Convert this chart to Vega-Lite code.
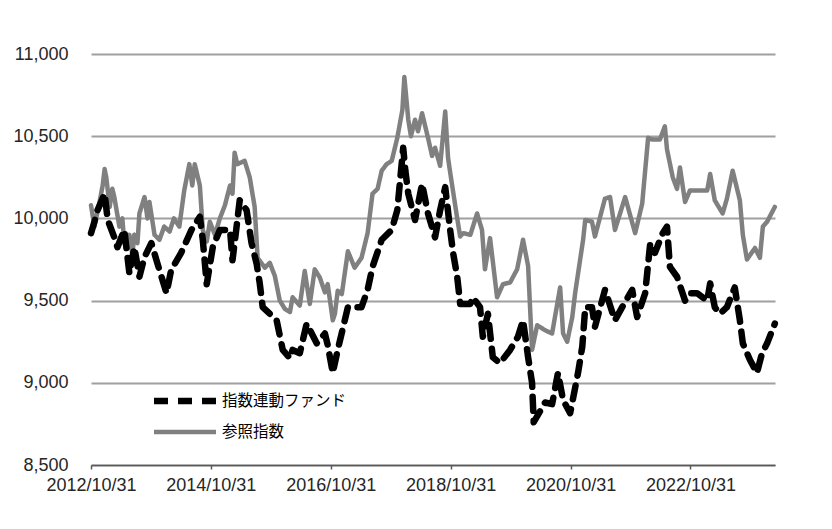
{
  "$schema": "https://vega.github.io/schema/vega-lite/v6.json",
  "width": 684,
  "height": 411,
  "autosize": {"type": "none"},
  "padding": {"left": 91, "top": 54, "right": 57, "bottom": 64},
  "background": "white",
  "config": {
    "font": "Liberation Sans",
    "view": {"stroke": null},
    "legend": {"labelFont": "Noto Sans CJK JP"}
  },
  "data": {"values": [
{"series":"参照指数","date":"2012-10-31","value":10080},{"series":"参照指数","date":"2012-11-21","value":9950},{"series":"参照指数","date":"2012-12-22","value":10100},{"series":"参照指数","date":"2013-01-10","value":10200},{"series":"参照指数","date":"2013-01-22","value":10300},{"series":"参照指数","date":"2013-02-01","value":10250},{"series":"参照指数","date":"2013-02-22","value":10070},{"series":"参照指数","date":"2013-03-10","value":10180},{"series":"参照指数","date":"2013-03-22","value":10130},{"series":"参照指数","date":"2013-04-22","value":9950},{"series":"参照指数","date":"2013-05-10","value":10000},{"series":"参照指数","date":"2013-05-22","value":9850},{"series":"参照指数","date":"2013-06-22","value":9900},{"series":"参照指数","date":"2013-07-10","value":9780},{"series":"参照指数","date":"2013-07-22","value":9900},{"series":"参照指数","date":"2013-08-10","value":9850},{"series":"参照指数","date":"2013-08-22","value":10030},{"series":"参照指数","date":"2013-09-22","value":10130},{"series":"参照指数","date":"2013-10-10","value":10000},{"series":"参照指数","date":"2013-10-22","value":10100},{"series":"参照指数","date":"2013-11-22","value":9900},{"series":"参照指数","date":"2013-12-22","value":9870},{"series":"参照指数","date":"2014-01-20","value":9950},{"series":"参照指数","date":"2014-02-22","value":9920},{"series":"参照指数","date":"2014-03-20","value":10000},{"series":"参照指数","date":"2014-04-22","value":9950},{"series":"参照指数","date":"2014-05-22","value":10170},{"series":"参照指数","date":"2014-06-22","value":10330},{"series":"参照指数","date":"2014-07-10","value":10200},{"series":"参照指数","date":"2014-07-25","value":10330},{"series":"参照指数","date":"2014-08-25","value":10200},{"series":"参照指数","date":"2014-09-12","value":9930},{"series":"参照指数","date":"2014-10-06","value":9860},{"series":"参照指数","date":"2014-10-25","value":9980},{"series":"参照指数","date":"2014-11-25","value":9900},{"series":"参照指数","date":"2014-12-25","value":10000},{"series":"参照指数","date":"2015-01-25","value":10080},{"series":"参照指数","date":"2015-02-25","value":10200},{"series":"参照指数","date":"2015-03-12","value":10150},{"series":"参照指数","date":"2015-03-25","value":10400},{"series":"参照指数","date":"2015-04-10","value":10330},{"series":"参照指数","date":"2015-05-25","value":10350},{"series":"参照指数","date":"2015-06-25","value":10250},{"series":"参照指数","date":"2015-07-25","value":10070},{"series":"参照指数","date":"2015-08-12","value":9760},{"series":"参照指数","date":"2015-09-25","value":9700},{"series":"参照指数","date":"2015-10-25","value":9730},{"series":"参照指数","date":"2015-11-25","value":9650},{"series":"参照指数","date":"2015-12-25","value":9500},{"series":"参照指数","date":"2016-01-25","value":9450},{"series":"参照指数","date":"2016-02-25","value":9430},{"series":"参照指数","date":"2016-03-12","value":9520},{"series":"参照指数","date":"2016-04-25","value":9470},{"series":"参照指数","date":"2016-05-25","value":9680},{"series":"参照指数","date":"2016-06-25","value":9480},{"series":"参照指数","date":"2016-07-25","value":9690},{"series":"参照指数","date":"2016-08-25","value":9640},{"series":"参照指数","date":"2016-09-25","value":9550},{"series":"参照指数","date":"2016-10-12","value":9600},{"series":"参照指数","date":"2016-11-12","value":9380},{"series":"参照指数","date":"2016-11-25","value":9420},{"series":"参照指数","date":"2016-12-12","value":9560},{"series":"参照指数","date":"2017-01-06","value":9540},{"series":"参照指数","date":"2017-02-12","value":9800},{"series":"参照指数","date":"2017-03-25","value":9700},{"series":"参照指数","date":"2017-05-06","value":9760},{"series":"参照指数","date":"2017-06-12","value":9910},{"series":"参照指数","date":"2017-07-12","value":10150},{"series":"参照指数","date":"2017-08-12","value":10180},{"series":"参照指数","date":"2017-09-06","value":10290},{"series":"参照指数","date":"2017-10-06","value":10330},{"series":"参照指数","date":"2017-11-06","value":10350},{"series":"参照指数","date":"2017-12-10","value":10490},{"series":"参照指数","date":"2018-01-10","value":10660},{"series":"参照指数","date":"2018-01-22","value":10860},{"series":"参照指数","date":"2018-02-15","value":10600},{"series":"参照指数","date":"2018-03-03","value":10500},{"series":"参照指数","date":"2018-03-28","value":10600},{"series":"参照指数","date":"2018-04-15","value":10530},{"series":"参照指数","date":"2018-05-10","value":10640},{"series":"参照指数","date":"2018-06-15","value":10490},{"series":"参照指数","date":"2018-07-10","value":10380},{"series":"参照指数","date":"2018-07-28","value":10430},{"series":"参照指数","date":"2018-08-28","value":10320},{"series":"参照指数","date":"2018-09-28","value":10650},{"series":"参照指数","date":"2018-10-15","value":10370},{"series":"参照指数","date":"2018-10-28","value":10280},{"series":"参照指数","date":"2018-12-10","value":10000},{"series":"参照指数","date":"2018-12-28","value":9890},{"series":"参照指数","date":"2019-01-15","value":9910},{"series":"参照指数","date":"2019-02-28","value":9900},{"series":"参照指数","date":"2019-04-10","value":10030},{"series":"参照指数","date":"2019-05-10","value":9930},{"series":"参照指数","date":"2019-05-28","value":9690},{"series":"参照指数","date":"2019-06-28","value":9880},{"series":"参照指数","date":"2019-08-10","value":9520},{"series":"参照指数","date":"2019-08-28","value":9560},{"series":"参照指数","date":"2019-09-15","value":9600},{"series":"参照指数","date":"2019-10-28","value":9610},{"series":"参照指数","date":"2019-12-10","value":9690},{"series":"参照指数","date":"2020-01-15","value":9870},{"series":"参照指数","date":"2020-02-15","value":9710},{"series":"参照指数","date":"2020-03-10","value":9200},{"series":"参照指数","date":"2020-04-10","value":9350},{"series":"参照指数","date":"2020-05-28","value":9320},{"series":"参照指数","date":"2020-07-10","value":9300},{"series":"参照指数","date":"2020-08-28","value":9580},{"series":"参照指数","date":"2020-09-15","value":9300},{"series":"参照指数","date":"2020-10-10","value":9250},{"series":"参照指数","date":"2020-11-10","value":9400},{"series":"参照指数","date":"2020-11-28","value":9550},{"series":"参照指数","date":"2021-01-15","value":9870},{"series":"参照指数","date":"2021-01-28","value":9990},{"series":"参照指数","date":"2021-03-10","value":9980},{"series":"参照指数","date":"2021-03-28","value":9890},{"series":"参照指数","date":"2021-05-28","value":10120},{"series":"参照指数","date":"2021-06-28","value":10130},{"series":"参照指数","date":"2021-07-28","value":9930},{"series":"参照指数","date":"2021-09-28","value":10130},{"series":"参照指数","date":"2021-11-28","value":9910},{"series":"参照指数","date":"2022-01-10","value":10090},{"series":"参照指数","date":"2022-02-15","value":10490},{"series":"参照指数","date":"2022-03-10","value":10480},{"series":"参照指数","date":"2022-04-28","value":10480},{"series":"参照指数","date":"2022-05-28","value":10560},{"series":"参照指数","date":"2022-06-10","value":10420},{"series":"参照指数","date":"2022-07-15","value":10250},{"series":"参照指数","date":"2022-08-10","value":10180},{"series":"参照指数","date":"2022-08-28","value":10310},{"series":"参照指数","date":"2022-09-28","value":10100},{"series":"参照指数","date":"2022-10-28","value":10170},{"series":"参照指数","date":"2023-02-10","value":10170},{"series":"参照指数","date":"2023-02-28","value":10270},{"series":"参照指数","date":"2023-03-28","value":10110},{"series":"参照指数","date":"2023-05-15","value":10030},{"series":"参照指数","date":"2023-06-10","value":10120},{"series":"参照指数","date":"2023-07-15","value":10290},{"series":"参照指数","date":"2023-08-28","value":10110},{"series":"参照指数","date":"2023-09-15","value":9900},{"series":"参照指数","date":"2023-10-10","value":9750},{"series":"参照指数","date":"2023-11-28","value":9820},{"series":"参照指数","date":"2023-12-28","value":9760},{"series":"参照指数","date":"2024-01-15","value":9950},{"series":"参照指数","date":"2024-02-10","value":9980},{"series":"参照指数","date":"2024-03-28","value":10070},
{"series":"指数連動ファンド","date":"2012-10-31","value":9910},{"series":"指数連動ファンド","date":"2012-11-21","value":9980},{"series":"指数連動ファンド","date":"2012-12-10","value":10050},{"series":"指数連動ファンド","date":"2013-01-22","value":10150},{"series":"指数連動ファンド","date":"2013-02-10","value":9990},{"series":"指数連動ファンド","date":"2013-03-22","value":9885},{"series":"指数連動ファンド","date":"2013-04-10","value":9825},{"series":"指数連動ファンド","date":"2013-05-22","value":9930},{"series":"指数連動ファンド","date":"2013-06-22","value":9665},{"series":"指数連動ファンド","date":"2013-07-22","value":9825},{"series":"指数連動ファンド","date":"2013-08-22","value":9645},{"series":"指数連動ファンド","date":"2013-09-22","value":9765},{"series":"指数連動ファンド","date":"2013-11-03","value":9850},{"series":"指数連動ファンド","date":"2013-12-10","value":9725},{"series":"指数連動ファンド","date":"2014-02-03","value":9545},{"series":"指数連動ファンド","date":"2014-03-03","value":9685},{"series":"指数連動ファンド","date":"2014-05-03","value":9790},{"series":"指数連動ファンド","date":"2014-07-05","value":9930},{"series":"指数連動ファンド","date":"2014-08-25","value":10010},{"series":"指数連動ファンド","date":"2014-09-12","value":9870},{"series":"指数連動ファンド","date":"2014-10-06","value":9600},{"series":"指数連動ファンド","date":"2014-11-12","value":9825},{"series":"指数連動ファンド","date":"2014-12-25","value":9930},{"series":"指数連動ファンド","date":"2015-02-25","value":9930},{"series":"指数連動ファンド","date":"2015-03-12","value":9745},{"series":"指数連動ファンド","date":"2015-04-06","value":9950},{"series":"指数連動ファンド","date":"2015-04-25","value":10110},{"series":"指数連動ファンド","date":"2015-06-06","value":10050},{"series":"指数連動ファンド","date":"2015-07-06","value":9850},{"series":"指数連動ファンド","date":"2015-08-06","value":9725},{"series":"指数連動ファンド","date":"2015-08-25","value":9605},{"series":"指数連動ファンド","date":"2015-09-12","value":9460},{"series":"指数連動ファンド","date":"2015-10-25","value":9420},{"series":"指数連動ファンド","date":"2015-12-06","value":9380},{"series":"指数連動ファンド","date":"2016-01-12","value":9200},{"series":"指数連動ファンド","date":"2016-02-25","value":9150},{"series":"指数連動ファンド","date":"2016-03-12","value":9200},{"series":"指数連動ファンド","date":"2016-04-25","value":9180},{"series":"指数連動ファンド","date":"2016-06-06","value":9360},{"series":"指数連動ファンド","date":"2016-08-06","value":9240},{"series":"指数連動ファンド","date":"2016-09-25","value":9300},{"series":"指数連動ファンド","date":"2016-10-12","value":9230},{"series":"指数連動ファンド","date":"2016-11-12","value":9060},{"series":"指数連動ファンド","date":"2016-12-12","value":9200},{"series":"指数連動ファンド","date":"2017-02-12","value":9460},{"series":"指数連動ファンド","date":"2017-05-06","value":9460},{"series":"指数連動ファンド","date":"2017-06-12","value":9565},{"series":"指数連動ファンド","date":"2017-07-12","value":9705},{"series":"指数連動ファンド","date":"2017-09-06","value":9870},{"series":"指数連動ファンド","date":"2017-11-06","value":9930},{"series":"指数連動ファンド","date":"2017-12-10","value":10050},{"series":"指数連動ファンド","date":"2018-01-15","value":10430},{"series":"指数連動ファンド","date":"2018-01-28","value":10290},{"series":"指数連動ファンド","date":"2018-02-15","value":10150},{"series":"指数連動ファンド","date":"2018-03-28","value":9990},{"series":"指数連動ファンド","date":"2018-05-10","value":10210},{"series":"指数連動ファンド","date":"2018-06-15","value":10030},{"series":"指数連動ファンド","date":"2018-07-28","value":9885},{"series":"指数連動ファンド","date":"2018-08-28","value":10050},{"series":"指数連動ファンド","date":"2018-09-28","value":10190},{"series":"指数連動ファンド","date":"2018-10-28","value":9930},{"series":"指数連動ファンド","date":"2018-11-15","value":9790},{"series":"指数連動ファンド","date":"2018-12-10","value":9645},{"series":"指数連動ファンド","date":"2018-12-28","value":9480},{"series":"指数連動ファンド","date":"2019-02-28","value":9480},{"series":"指数連動ファンド","date":"2019-03-15","value":9520},{"series":"指数連動ファンド","date":"2019-04-28","value":9460},{"series":"指数連動ファンド","date":"2019-05-15","value":9280},{"series":"指数連動ファンド","date":"2019-06-15","value":9420},{"series":"指数連動ファンド","date":"2019-07-15","value":9155},{"series":"指数連動ファンド","date":"2019-08-28","value":9120},{"series":"指数連動ファンド","date":"2019-10-28","value":9200},{"series":"指数連動ファンド","date":"2019-12-15","value":9280},{"series":"指数連動ファンド","date":"2020-01-15","value":9380},{"series":"指数連動ファンド","date":"2020-02-15","value":9155},{"series":"指数連動ファンド","date":"2020-03-10","value":9000},{"series":"指数連動ファンド","date":"2020-03-20","value":8760},{"series":"指数連動ファンド","date":"2020-05-28","value":8880},{"series":"指数連動ファンド","date":"2020-07-10","value":8870},{"series":"指数連動ファンド","date":"2020-08-15","value":9060},{"series":"指数連動ファンド","date":"2020-09-15","value":8895},{"series":"指数連動ファンド","date":"2020-10-28","value":8815},{"series":"指数連動ファンド","date":"2020-12-15","value":9060},{"series":"指数連動ファンド","date":"2021-01-10","value":9220},{"series":"指数連動ファンド","date":"2021-01-28","value":9460},{"series":"指数連動ファンド","date":"2021-03-10","value":9460},{"series":"指数連動ファンド","date":"2021-03-28","value":9340},{"series":"指数連動ファンド","date":"2021-05-28","value":9565},{"series":"指数連動ファンド","date":"2021-07-28","value":9380},{"series":"指数連動ファンド","date":"2021-09-10","value":9460},{"series":"指数連動ファンド","date":"2021-11-10","value":9565},{"series":"指数連動ファンド","date":"2021-12-10","value":9400},{"series":"指数連動ファンド","date":"2022-01-28","value":9545},{"series":"指数連動ファンド","date":"2022-02-28","value":9850},{"series":"指数連動ファンド","date":"2022-03-28","value":9790},{"series":"指数連動ファンド","date":"2022-05-15","value":9910},{"series":"指数連動ファンド","date":"2022-06-10","value":9950},{"series":"指数連動ファンド","date":"2022-06-28","value":9705},{"series":"指数連動ファンド","date":"2022-08-10","value":9645},{"series":"指数連動ファンド","date":"2022-09-28","value":9500},{"series":"指数連動ファンド","date":"2022-10-28","value":9545},{"series":"指数連動ファンド","date":"2022-12-10","value":9545},{"series":"指数連動ファンド","date":"2023-02-10","value":9500},{"series":"指数連動ファンド","date":"2023-02-28","value":9605},{"series":"指数連動ファンド","date":"2023-03-28","value":9460},{"series":"指数連動ファンド","date":"2023-04-28","value":9420},{"series":"指数連動ファンド","date":"2023-06-10","value":9460},{"series":"指数連動ファンド","date":"2023-07-28","value":9580},{"series":"指数連動ファンド","date":"2023-08-28","value":9380},{"series":"指数連動ファンド","date":"2023-09-15","value":9240},{"series":"指数連動ファンド","date":"2023-10-28","value":9140},{"series":"指数連動ファンド","date":"2023-12-10","value":9060},{"series":"指数連動ファンド","date":"2024-01-10","value":9180},{"series":"指数連動ファンド","date":"2024-02-10","value":9240},{"series":"指数連動ファンド","date":"2024-03-28","value":9360}
  ]},
  "mark": {"type": "line", "strokeCap": "round", "strokeJoin": "round"},
  "encoding": {
    "x": {
      "field": "date", "type": "temporal",
      "scale": {"type": "utc", "domain": [{"year": 2012, "month": 10, "date": 31, "utc": true}, {"year": 2024, "month": 3, "date": 29, "utc": true}]},
      "axis": {
        "title": null,
        "values": [
          {"year": 2012, "month": 10, "date": 31, "utc": true},
          {"year": 2014, "month": 10, "date": 31, "utc": true},
          {"year": 2016, "month": 10, "date": 31, "utc": true},
          {"year": 2018, "month": 10, "date": 31, "utc": true},
          {"year": 2020, "month": 10, "date": 31, "utc": true},
          {"year": 2022, "month": 10, "date": 31, "utc": true}
        ],
        "labelExpr": "utcFormat(datum.value, '%Y/%m/%d')",
        "grid": false,
        "domainColor": "#595959",
        "domainWidth": 1.5,
        "tickColor": "#595959",
        "tickSize": 4,
        "tickWidth": 1.5,
        "labelFontSize": 18,
        "labelColor": "#262626",
        "labelPadding": 7,
        "labelFlush": false,
        "labelOverlap": false
      }
    },
    "y": {
      "field": "value", "type": "quantitative",
      "scale": {"domain": [8500, 11000], "nice": false, "zero": false},
      "axis": {
        "title": null,
        "values": [8500, 9000, 9500, 10000, 10500, 11000],
        "format": ",d",
        "domain": false,
        "ticks": false,
        "gridColor": "#a0a0a0",
        "gridWidth": 2,
        "labelFontSize": 18,
        "labelColor": "#262626",
        "labelPadding": 23
      }
    },
    "color": {
      "field": "series", "type": "nominal",
      "scale": {"domain": ["指数連動ファンド", "参照指数"], "range": ["#000000", "#808080"]},
      "legend": {
        "title": null,
        "orient": "none",
        "legendX": 75,
        "legendY": 328,
        "symbolType": "M-2,0H2",
        "symbolSize": 961,
        "labelFontSize": 15.5,
        "labelColor": "#000000",
        "rowPadding": 0,
        "labelOffset": 18
      }
    },
    "strokeDash": {
      "field": "series", "type": "nominal",
      "scale": {"domain": ["指数連動ファンド", "参照指数"], "range": [[14, 10], [1, 0]]}
    },
    "strokeWidth": {
      "field": "series", "type": "nominal",
      "scale": {"domain": ["指数連動ファンド", "参照指数"], "range": [6.5, 4.5]}
    }
  }
}
